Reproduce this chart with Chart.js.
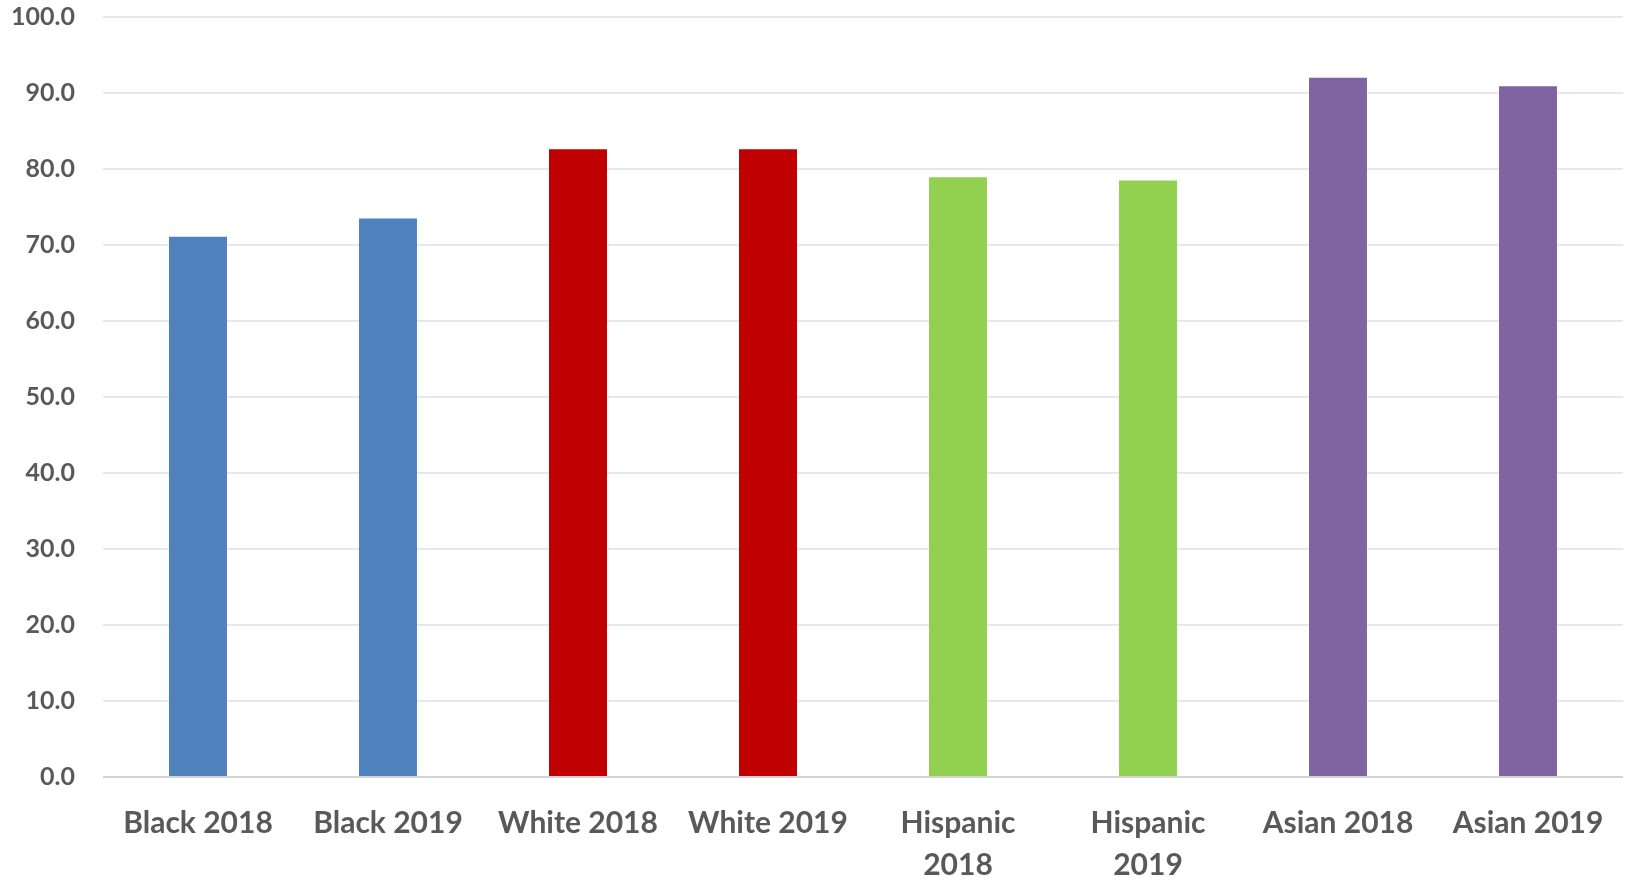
<!DOCTYPE html>
<html>
<head>
<meta charset="utf-8">
<script src="https://cdn.jsdelivr.net/npm/chart.js@4/dist/chart.umd.min.js"></script>
<style>
  html, body { margin: 0; padding: 0; background: #ffffff; }
  #wrap { width: 1633px; height: 889px; position: relative; }
</style>
</head>
<body>
<div id="wrap"><canvas id="c" width="1633" height="889"></canvas></div>
<script>
const categories = [
  ["Black 2018"], ["Black 2019"], ["White 2018"], ["White 2019"],
  ["Hispanic", "2018"], ["Hispanic", "2019"], ["Asian 2018"], ["Asian 2019"]
];
const values = [71.1, 73.5, 82.6, 82.6, 78.9, 78.5, 92.0, 90.9];
const barColors = ["#4F81BD", "#4F81BD", "#C00000", "#C00000", "#92D050", "#92D050", "#8064A2", "#8064A2"];
const yTicks = [0, 10, 20, 30, 40, 50, 60, 70, 80, 90, 100];

const textColor = "#595959";
const fontFamily = "Lato, 'Liberation Sans', sans-serif";

new Chart(document.getElementById("c"), {
  type: "bar",
  data: {
    labels: categories,
    datasets: [{
      data: values,
      backgroundColor: barColors,
      borderWidth: 0,
      categoryPercentage: 1.0,
      barPercentage: 0.305
    }]
  },
  options: {
    responsive: false,
    animation: false,
    layout: { padding: { top: 0, right: 10, left: 8, bottom: 0 } },
    plugins: { legend: { display: false }, tooltip: { enabled: false } },
    scales: {
      x: {
        afterFit: (s) => { s.height = 112; },
        grid: { display: false, drawTicks: false },
        border: { display: false },
        ticks: {
          color: textColor,
          padding: 25,
          maxRotation: 0,
          autoSkip: false,
          font: { family: fontFamily, size: 30, weight: "bold", lineHeight: 1.4 }
        }
      },
      y: {
        min: 0,
        max: 100,
        afterBuildTicks: (s) => { s.ticks = yTicks.map(v => ({ value: v })); },
        afterFit: (s) => { s.width = 95; s.paddingTop = 17; s.paddingBottom = 0; },
        grid: {
          drawTicks: false,
          color: (ctx) => ctx.tick && ctx.tick.value === 0 ? "#d4d4d4" : "#e8e8e8",
          lineWidth: 2
        },
        border: { display: false },
        ticks: {
          color: textColor,
          padding: 28,
          callback: (v) => Number(v).toFixed(1),
          font: { family: fontFamily, size: 25, weight: "bold" }
        }
      }
    }
  }
});
</script>
</body>
</html>
